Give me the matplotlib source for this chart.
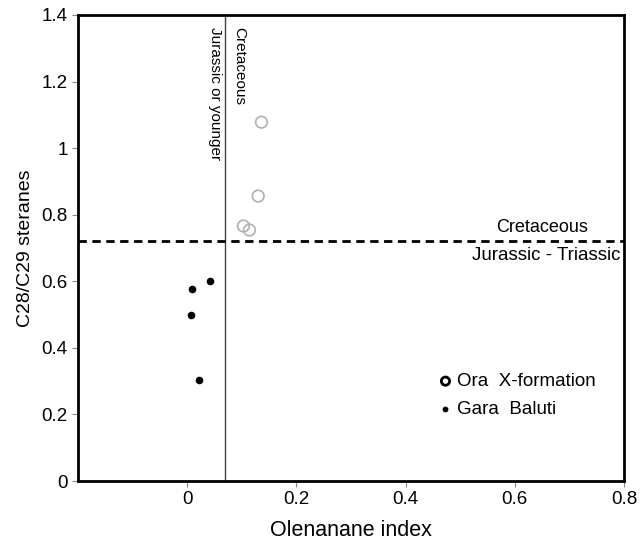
import matplotlib.pyplot as plt

# Ora X-formation (open circles)
ora_x = [0.136, 0.130, 0.103, 0.114]
ora_y = [1.078, 0.856, 0.766, 0.754]
# Gara Baluti (filled dots)
gara_x = [0.042, 0.009, 0.007, 0.022]
gara_y = [0.601, 0.577, 0.499, 0.303]

olean_cut = 0.07
c28_cut = 0.72

plt.rcParams['font.family'] = ['Liberation Sans', 'DejaVu Sans']

fig = plt.figure(figsize=(6.41, 5.39), dpi=100)
ax = fig.add_axes([0.1217, 0.1076, 0.8518, 0.8646])

ax.scatter(ora_x, ora_y, s=70, facecolors='none', edgecolors='#b0b0b0', linewidths=1.2, zorder=3)
ax.scatter(gara_x, gara_y, s=20, color='black', zorder=3)

ax.axvline(olean_cut, color='#444444', lw=1)
ax.axhline(c28_cut, color='black', lw=2, ls=(0, (3, 2)))

ax.text(0.734, 0.762, 'Cretaceous', ha='right', va='center', fontsize=13)
ax.text(0.793, 0.676, 'Jurassic - Triassic', ha='right', va='center', fontsize=13.5)
ax.text(olean_cut - 0.007, 1.365, 'Jurassic or younger', rotation=-90, ha='right', va='top', fontsize=11)
ax.text(olean_cut + 0.013, 1.365, 'Cretaceous', rotation=-90, ha='left', va='top', fontsize=11)

# legend drawn as plain markers + text
ax.scatter([0.473], [0.300], s=35, facecolors='none', edgecolors='black', linewidths=2, zorder=3)
ax.scatter([0.473], [0.216], s=10, color='black', zorder=3)
ax.text(0.495, 0.300, 'Ora  X-formation', va='center', fontsize=13.5)
ax.text(0.495, 0.216, 'Gara  Baluti', va='center', fontsize=13.5)

ax.set_xlim(-0.2, 0.8)
ax.set_ylim(0, 1.4)
ax.set_xticks([0, 0.2, 0.4, 0.6, 0.8])
ax.set_xticklabels(['0', '0.2', '0.4', '0.6', '0.8'])
ax.set_yticks([0, 0.2, 0.4, 0.6, 0.8, 1.0, 1.2, 1.4])
ax.set_yticklabels(['0', '0.2', '0.4', '0.6', '0.8', '1', '1.2', '1.4'])
ax.tick_params(direction='out', length=4, color='#888888', labelsize=13.5)
for sp in ax.spines.values():
    sp.set_linewidth(2)

ax.set_xlabel('Olenanane index', fontsize=15.5, labelpad=8)
ax.set_ylabel('C28/C29 steranes', fontsize=14, labelpad=5)

fig.savefig('out.png', dpi=100)
